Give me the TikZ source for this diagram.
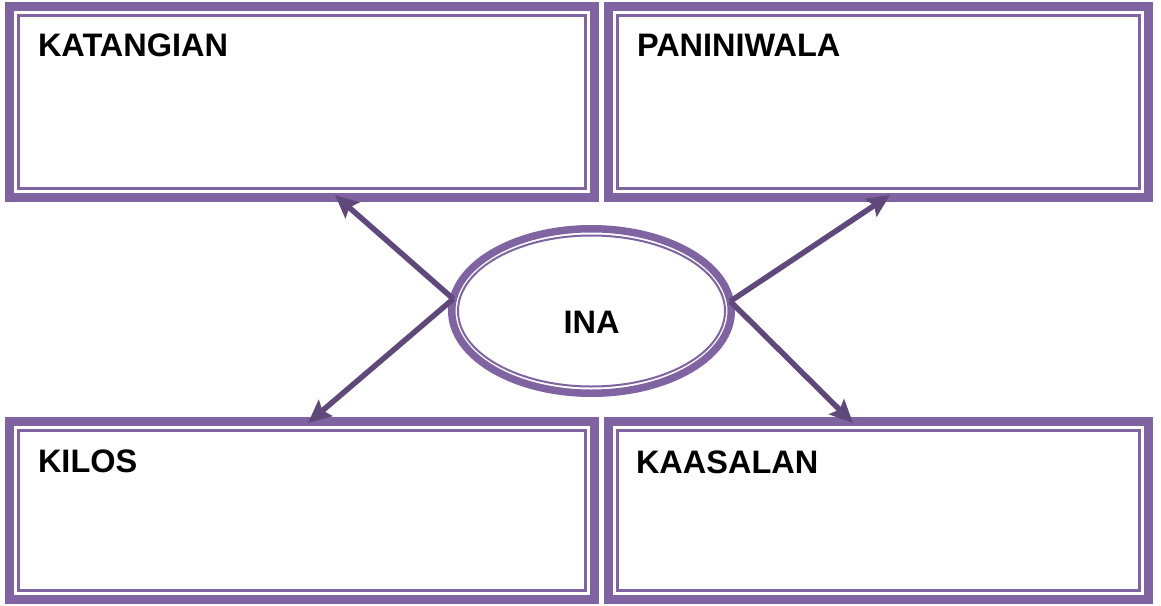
\documentclass[tikz,border=0pt]{standalone}
\usepackage{fontspec}
\setmainfont{Liberation Sans}
\usetikzlibrary{arrows.meta,calc,shapes.geometric}
\definecolor{boxpurple}{HTML}{8064A2}
\definecolor{arrowpurple}{HTML}{5F497A}
\tikzset{
  outerbox/.style={draw=boxpurple, line width=9pt, inner sep=0pt, outer sep=0pt, rectangle, fill=white},
  innerline/.style={draw=boxpurple, line width=2.5pt},
  label/.style={font=\fontsize{32.5}{38}\selectfont\bfseries, inner sep=0pt, outer sep=0pt, anchor=base west},
  arr/.style={draw=arrowpurple, line width=5.5pt, -{Stealth[length=23pt,width=21pt,inset=4pt]}},
  ellbox/.style={draw=boxpurple, line width=7.5pt, ellipse, inner sep=0pt, outer sep=0pt, fill=white}
}
\begin{document}
\begin{tikzpicture}[x=1pt,y=-1pt]
\useasboundingbox (0,0) rectangle (1161,605);
% boxes
\node[outerbox, minimum width=585pt, minimum height=191pt] (tl) at (302,102) {};
\node[outerbox, minimum width=540pt, minimum height=191pt] (tr) at (878.5,102) {};
\node[outerbox, minimum width=585pt, minimum height=178pt] (bl) at (302,510.5) {};
\node[outerbox, minimum width=540pt, minimum height=178pt] (br) at (878.5,510.5) {};
\foreach \b in {tl,tr,bl,br}{
  \draw[innerline] ([shift={(9pt,-9pt)}]\b.north west) rectangle ([shift={(-9pt,9pt)}]\b.south east);
}
% labels
\node[label] (ltl) at (38,56) {KATANGIAN};
\node[label] (ltr) at (637,56) {PANINIWALA};
\node[label] (lbl) at (38,472) {KILOS};
\node[label] (lbr) at (636,473) {KAASALAN};
% ellipse
\node[ellbox, minimum width=279.5pt, minimum height=164.5pt] (ina) at (591.5,311) {};
\draw[boxpurple, line width=2pt] (ina.center) ellipse [x radius=133.5, y radius=75.5];
\node[label, anchor=base] (lina) at (591.5,333) {INA};
% arrows
\draw[arr] (ina.175) -- ([shift={(33pt,2.5pt)}]tl.south);
\draw[arr] (ina.175) -- ([shift={(6pt,-1.5pt)}]bl.north);
\draw[arr] (ina.4) -- ([shift={(11.5pt,2.5pt)}]tr.south);
\draw[arr] (ina.4) -- ([shift={(-25.5pt,-1.5pt)}]br.north);
\end{tikzpicture}
\end{document}
